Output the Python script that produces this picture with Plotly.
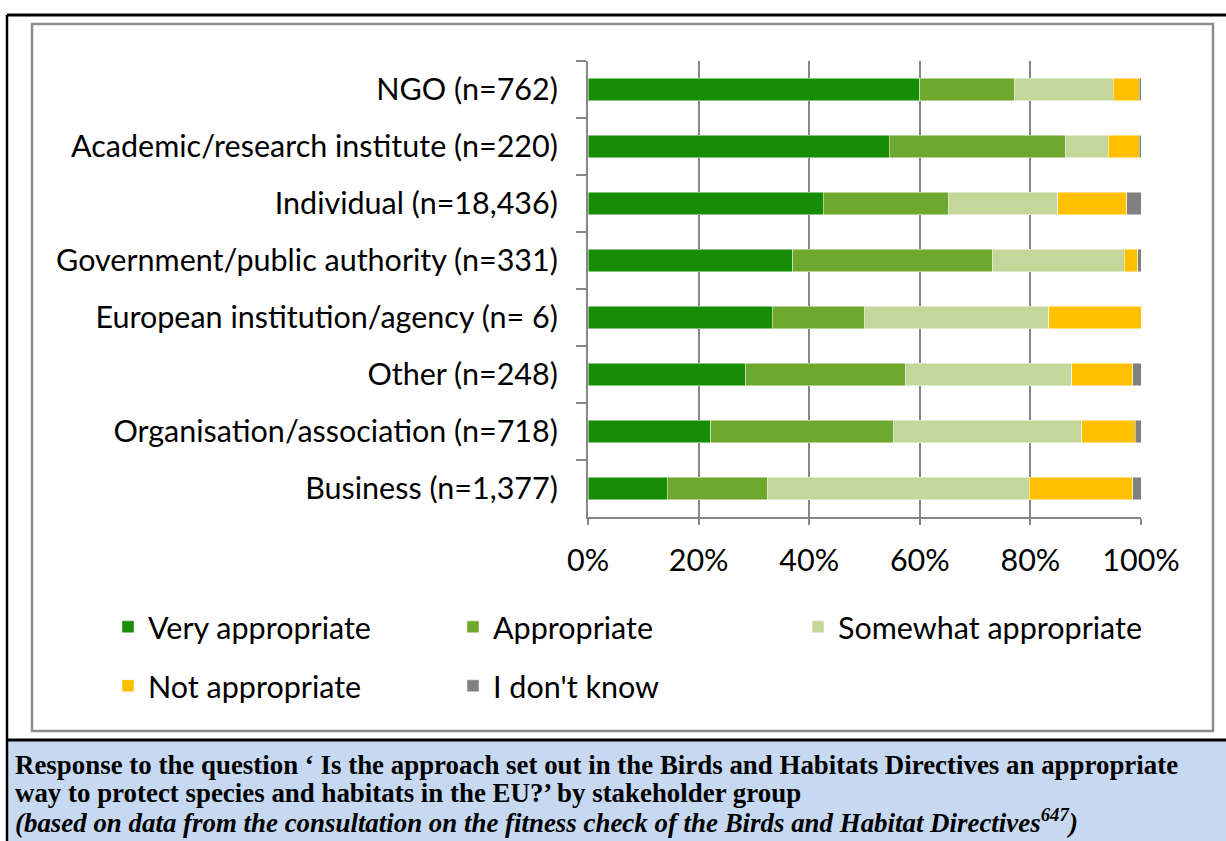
import plotly.graph_objects as go

categories = [
    "NGO (n=762)",
    "Academic/research institute (n=220)",
    "Individual (n=18,436)",
    "Government/public authority (n=331)",
    "European institution/agency (n= 6)",
    "Other (n=248)",
    "Organisation/association (n=718)",
    "Business (n=1,377)",
]
very_appropriate = [60.0, 54.5, 42.5, 37.0, 33.3, 28.5, 22.2, 14.3]
appropriate = [17.2, 31.9, 22.7, 36.1, 16.7, 29.0, 33.1, 18.1]
somewhat_appropriate = [17.8, 7.7, 19.7, 23.9, 33.3, 30.0, 34.0, 47.4]
not_appropriate = [4.7, 5.6, 12.5, 2.4, 16.7, 11.0, 9.7, 18.7]
dont_know = [0.3, 0.3, 2.6, 0.6, 0.0, 1.5, 1.0, 1.5]

series_names = ["Very appropriate", "Appropriate", "Somewhat appropriate",
                "Not appropriate", "I don't know"]
series_values = [very_appropriate, appropriate, somewhat_appropriate,
                 not_appropriate, dont_know]
series_colors = ["#178D05", "#6FA82F", "#C4D79B", "#FFC000", "#808080"]
series_legend = ["legend", "legend", "legend", "legend2", "legend2"]

x_ticks = [0, 20, 40, 60, 80, 100]
x_ticktext = ["0%", "20%", "40%", "60%", "80%", "100%"]

caption_lines = [
    "<b>Response to the question ‘ Is the approach set out in the Birds and Habitats Directives an appropriate</b>",
    "<b>way to protect species and habitats in the EU?’ by stakeholder group</b>",
    "<b><i>(based on data from the consultation on the fitness check of the Birds and Habitat Directives<sup>647</sup>)</i></b>",
]

W, H = 1226, 841
PL, PR, PT, PB = 588, 1141, 61, 517  # plot area in pixels


def px(x):
    return (x - PL) / (PR - PL)


def py(y):
    return (PB - y) / (PB - PT)


FONT = "Lato, Calibri, Carlito, sans-serif"
FS = 30.5

fig = go.Figure()
for name, vals, col, lg in zip(series_names, series_values, series_colors, series_legend):
    fig.add_trace(go.Bar(
        y=categories, x=vals, name=name, orientation="h",
        marker=dict(color=col, line=dict(color="rgba(255,255,255,0.6)", width=0.8)),
        legend=lg,
    ))

shapes = []
# inner chart border (grey)
shapes.append(dict(type="rect", xref="paper", yref="paper",
                   x0=px(32), x1=px(1213), y0=py(731), y1=py(24),
                   line=dict(color="#8C8C8C", width=2.5), layer="below"))
# caption background
shapes.append(dict(type="rect", xref="paper", yref="paper",
                   x0=px(7), x1=px(1240), y0=py(860), y1=py(740),
                   fillcolor="#C6D9F1", line=dict(width=0), layer="below"))
# outer black frame
shapes.append(dict(type="line", xref="paper", yref="paper",
                   x0=px(7), x1=px(1240), y0=py(15), y1=py(15),
                   line=dict(color="black", width=3)))
shapes.append(dict(type="line", xref="paper", yref="paper",
                   x0=px(7), x1=px(7), y0=py(15), y1=py(860),
                   line=dict(color="black", width=2.5)))
shapes.append(dict(type="line", xref="paper", yref="paper",
                   x0=px(7), x1=px(1240), y0=py(740), y1=py(740),
                   line=dict(color="black", width=3)))

caption_y = [765, 793, 821]
annotations = []
for txt, yy in zip(caption_lines, caption_y):
    annotations.append(dict(text=txt, xref="paper", yref="paper",
                            x=px(13), y=py(yy), xanchor="left", yanchor="middle",
                            align="left", showarrow=False,
                            font=dict(family="Liberation Serif, Times New Roman, serif",
                                      size=26.9, color="black")))

fig.update_layout(
    width=W, height=H,
    margin=dict(l=PL, r=W - PR, t=PT, b=H - PB),
    paper_bgcolor="white", plot_bgcolor="white",
    barmode="stack", bargap=0.6,
    font=dict(family=FONT, size=FS, color="black"),
    xaxis=dict(range=[0, 100], tickvals=x_ticks, ticktext=x_ticktext,
               showgrid=True, gridcolor="#868686", gridwidth=1.5,
               showline=True, linecolor="#868686", linewidth=2,
               ticks="outside", ticklen=6, tickcolor="#868686", tickwidth=1.5,
               ticklabelstandoff=9, zeroline=False,
               tickfont=dict(family=FONT, size=FS, color="black")),
    yaxis=dict(categoryorder="array", categoryarray=categories, autorange="reversed",
               showline=True, linecolor="#868686", linewidth=2,
               ticks="outside", ticklen=10, tickcolor="#868686", tickwidth=1.5,
               tickson="boundaries", ticklabelstandoff=22, showgrid=False,
               tickfont=dict(family=FONT, size=FS, color="black")),
    legend=dict(orientation="h", x=px(108), xanchor="left", y=py(627), yanchor="middle",
                entrywidth=300, entrywidthmode="pixels", traceorder="normal",
                font=dict(family=FONT, size=FS, color="black"), bgcolor="rgba(0,0,0,0)"),
    legend2=dict(orientation="h", x=px(108), xanchor="left", y=py(686), yanchor="middle",
                 entrywidth=300, entrywidthmode="pixels", traceorder="normal",
                 font=dict(family=FONT, size=FS, color="black"), bgcolor="rgba(0,0,0,0)"),
    shapes=shapes,
    annotations=annotations,
)

fig.write_html("out.html", config={"displayModeBar": False},
               post_script="document.body.style.margin='0';")
